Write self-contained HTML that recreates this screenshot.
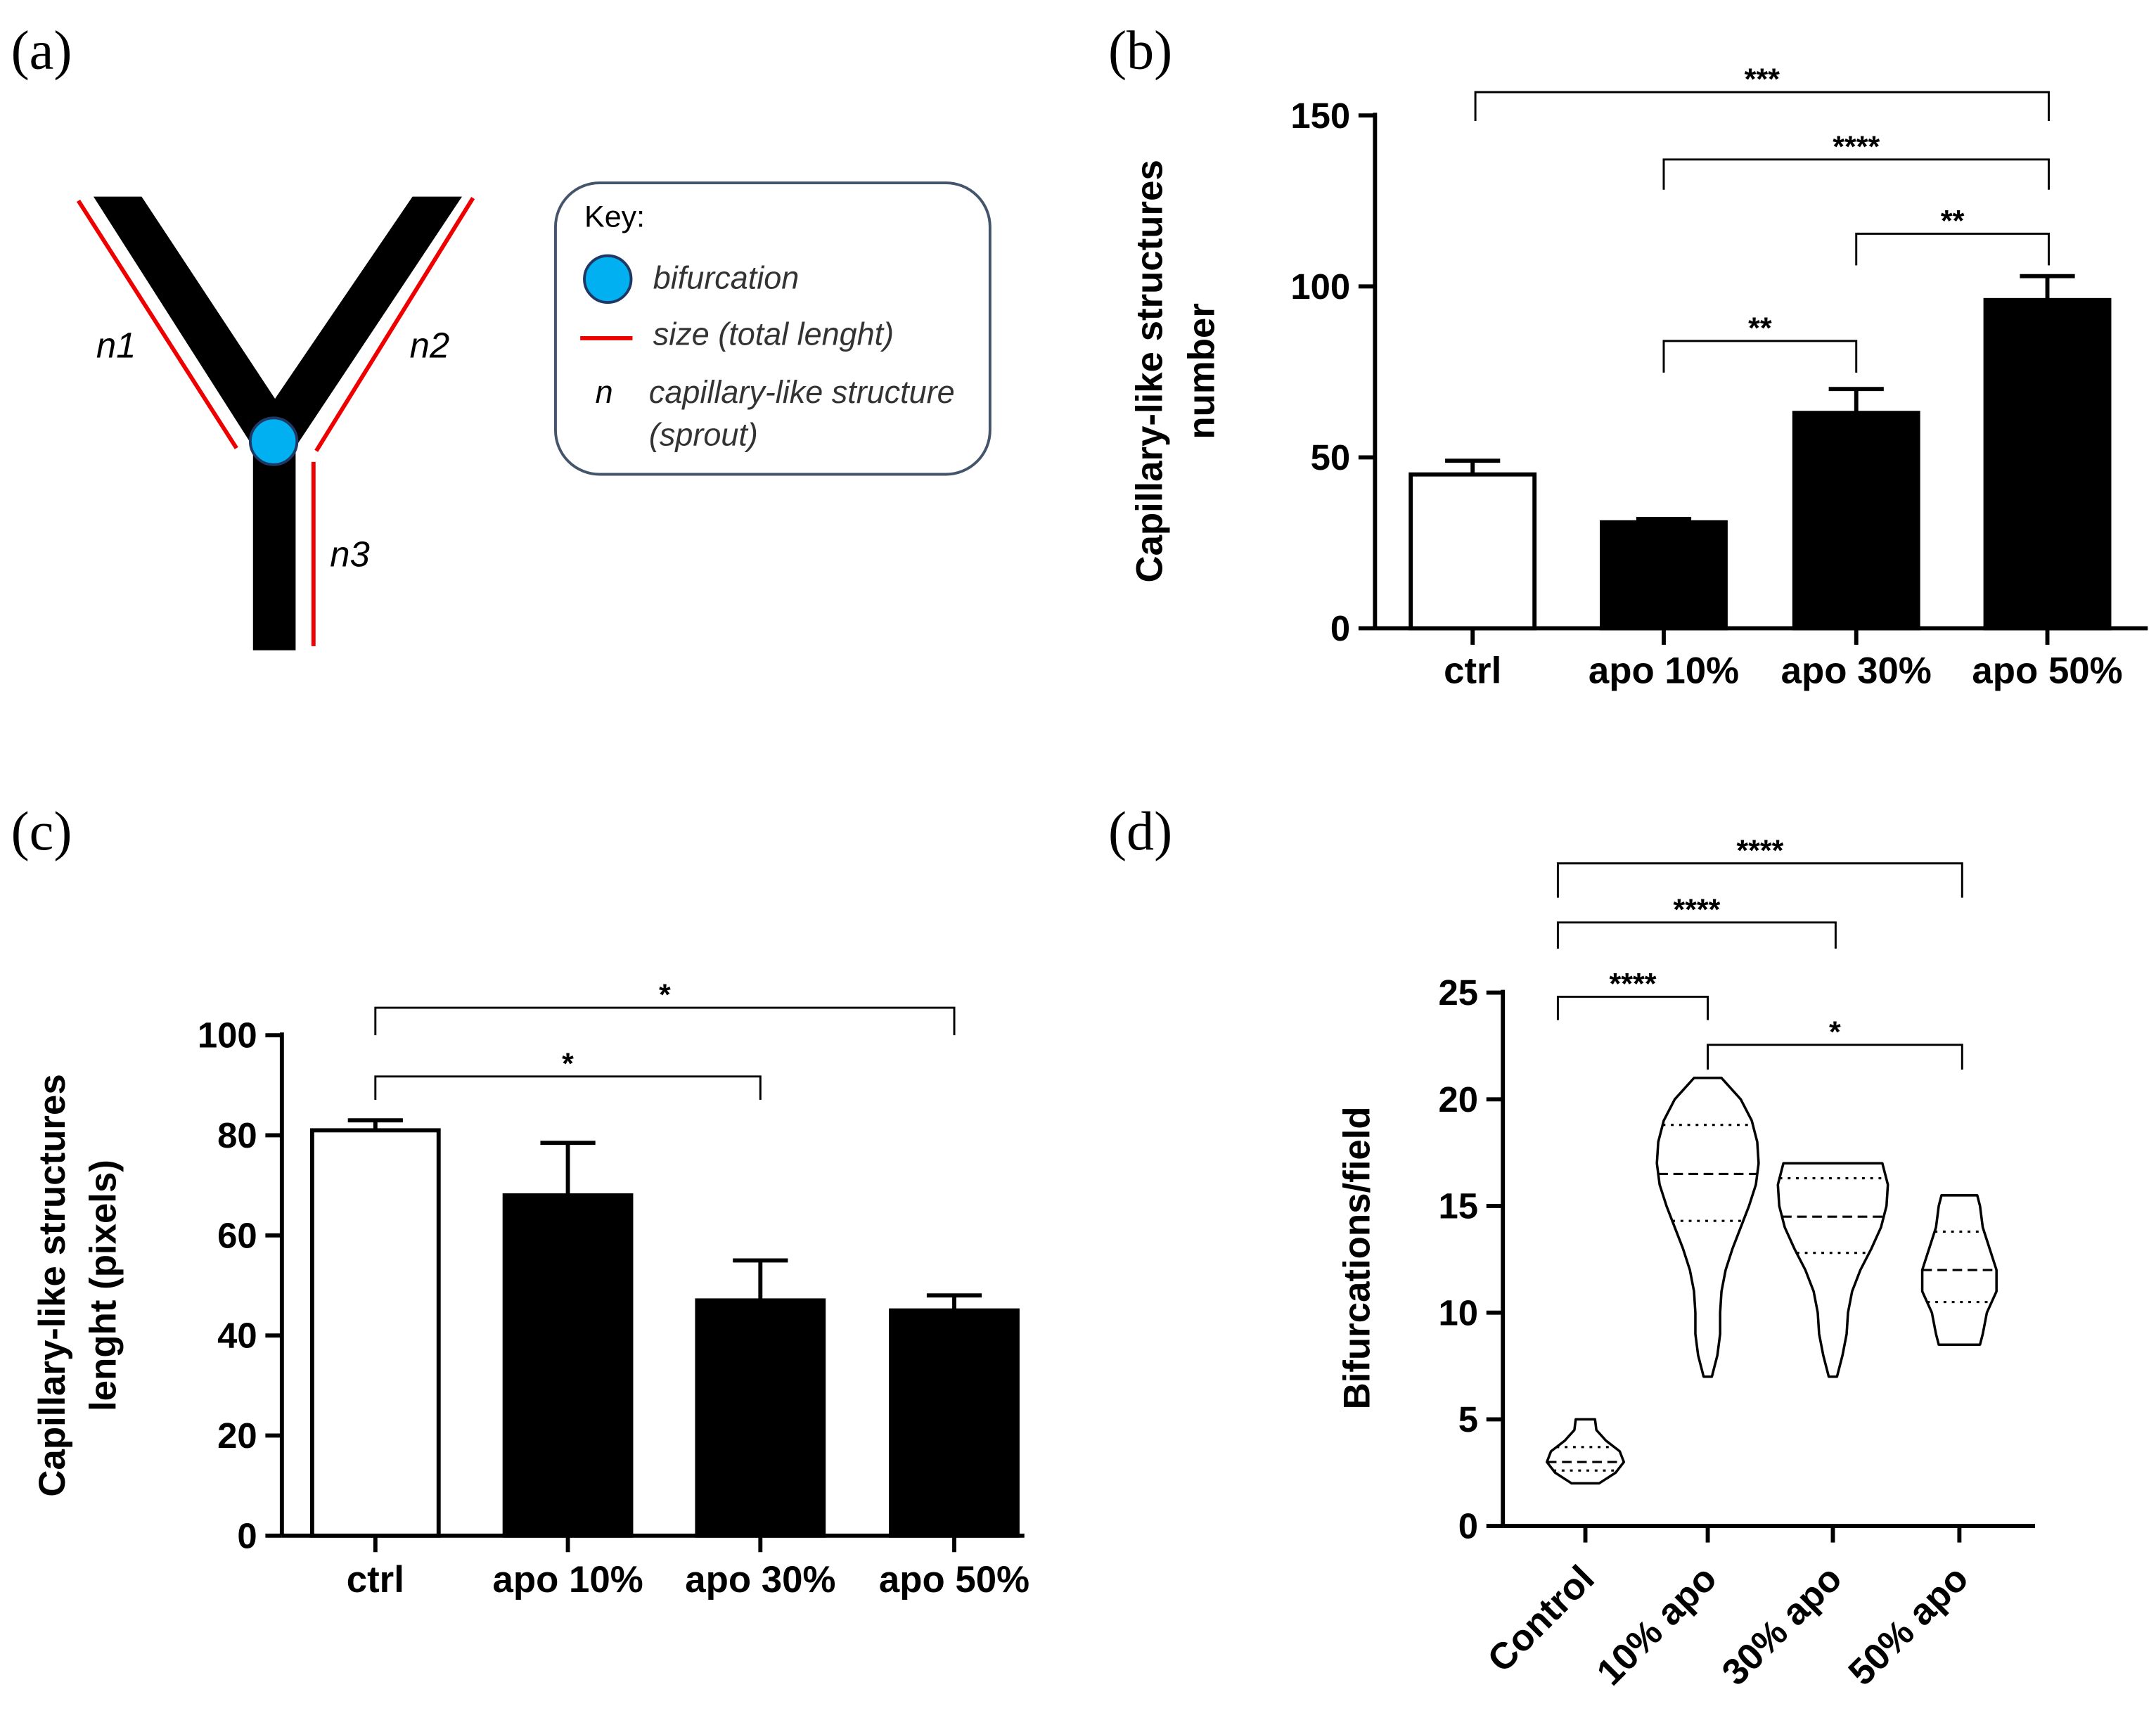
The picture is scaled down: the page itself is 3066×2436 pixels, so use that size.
<!DOCTYPE html>
<html><head><meta charset="utf-8"><style>
html,body{margin:0;padding:0;background:#fff}
svg{display:block}
text{font-family:"Liberation Sans",sans-serif}
.pl{font-family:"Liberation Serif",serif;font-size:40px}
</style></head><body>
<svg id="s" width="3066" height="2436" viewBox="0 0 1568 1246" preserveAspectRatio="none" xmlns="http://www.w3.org/2000/svg">
<text class="pl" x="8" y="50">(a)</text>
<text class="pl" x="806" y="50">(b)</text>
<text class="pl" x="8" y="618">(c)</text>
<text class="pl" x="806" y="618">(d)</text>
<g>
<polygon points="68,143 103,143 200,290 300,143 336,143 215,325 215,473 184,473 184,325" fill="#000"/>
<line x1="57" y1="146" x2="172" y2="326" stroke="#e00" stroke-width="3"/>
<line x1="344" y1="144" x2="230" y2="328" stroke="#e00" stroke-width="3"/>
<line x1="228" y1="336" x2="228" y2="470" stroke="#e00" stroke-width="3"/>
<circle cx="199" cy="321" r="17" fill="#00b0f0" stroke="#1f3864" stroke-width="2"/>
<text x="70" y="260" font-size="26" font-style="italic">n1</text>
<text x="298" y="260" font-size="26" font-style="italic">n2</text>
<text x="240" y="412" font-size="26" font-style="italic">n3</text>
</g>
<g>
<rect x="404" y="133" width="316" height="212" rx="32" fill="#fff" stroke="#44546a" stroke-width="2"/>
<text x="425" y="165" font-size="22">Key:</text>
<circle cx="442" cy="203" r="17" fill="#00b0f0" stroke="#1f3864" stroke-width="2"/>
<text x="475" y="210" font-size="23" font-style="italic" fill="#333">bifurcation</text>
<line x1="422" y1="246" x2="460" y2="246" stroke="#e00" stroke-width="3"/>
<text x="475" y="251" font-size="23" font-style="italic" fill="#333">size (total lenght)</text>
<text x="433" y="293" font-size="23" font-style="italic">n</text>
<text x="472" y="293" font-size="23" font-style="italic" fill="#333">capillary-like structure</text>
<text x="472" y="324" font-size="23" font-style="italic" fill="#333">(sprout)</text>
</g>
<g id="gb"></g>
<g id="gc"></g>
<g id="gd"></g>
</svg>
<script>
const bCats=["ctrl","apo 10%","apo 30%","apo 50%"];
const bVals=[45,31,63,96];
const bErr=[49,32,70,103];
const bTicks=[0,50,100,150];
const cCats=["ctrl","apo 10%","apo 30%","apo 50%"];
const cVals=[81,68,47,45];
const cErr=[83,78.5,55,48];
const cTicks=[0,20,40,60,80,100];
const dCats=["Control","10% apo","30% apo","50% apo"];
const dTicks=[0,5,10,15,20,25];
const dMed=[3,16.5,14.5,12];
const dQ1=[2.6,14.3,12.8,10.5];
const dQ3=[3.7,18.8,16.3,13.8];
const dLevels=[
 [2,2.5,3,3.5,4,4.5,5],
 [7,8,9,10,11,12,13,14,15,16,17,18,19,20,21],
 [7,8,9,10,11,12,13,14,15,16,17],
 [8.5,9,10,11,12,13,14,15,15.5]];
const dWidth=[
 [10,22,28,25,15,8,7],
 [3,7,9,9,10,13,18,24,30,35,37,36,32,24,10],
 [3,7,10,11,14,20,28,35,39,40,36],
 [15,17,20,27,27,22,17,15,13]];
const NS="http://www.w3.org/2000/svg";
function mk(p,t,a,txt){const e=document.createElementNS(NS,t);for(const k in a)e.setAttribute(k,a[k]);if(txt!=null)e.textContent=txt;p.appendChild(e);return e;}
function bracket(g,x1,x2,y,d1,d2,lab,fs){
 mk(g,"path",{d:`M${x1},${y+d1}V${y}H${x2}V${y+d2}`,fill:"none",stroke:"#000","stroke-width":1.5});
 const t=mk(g,"text",{x:(x1+x2)/2,y:y-2,"text-anchor":"middle","font-size":fs||22,"font-weight":"bold"},lab);
 
 
}
function barChart(g,cats,vals,errs,ticks,ax,y0,yTop,vmax,cx,bw,xEnd,labY){
 const Y=v=>y0-(v/vmax)*(y0-yTop);
 mk(g,"line",{x1:ax,y1:yTop-2,x2:ax,y2:y0,stroke:"#000","stroke-width":3});
 mk(g,"line",{x1:ax,y1:y0,x2:xEnd,y2:y0,stroke:"#000","stroke-width":3});
 ticks.forEach(t=>{mk(g,"line",{x1:ax-12,y1:Y(t),x2:ax,y2:Y(t),stroke:"#000","stroke-width":3});
  const l=mk(g,"text",{x:ax-18,y:Y(t)+9,"text-anchor":"end","font-size":26,"font-weight":"bold"},t);
  
  });
 cats.forEach((c,i)=>{const x=cx[i];
  mk(g,"line",{x1:x,y1:Y(vals[i]),x2:x,y2:Y(errs[i]),stroke:"#000","stroke-width":3});
  mk(g,"line",{x1:x-20,y1:Y(errs[i]),x2:x+20,y2:Y(errs[i]),stroke:"#000","stroke-width":3});
  const r=mk(g,"rect",{x:x-bw/2,y:Y(vals[i]),width:bw,height:y0-Y(vals[i]),fill:i==0?"#fff":"#000",stroke:"#000","stroke-width":3});
  
  
  mk(g,"line",{x1:x,y1:y0,x2:x,y2:y0+12,stroke:"#000","stroke-width":3});
  const l=mk(g,"text",{x:x,y:labY,"text-anchor":"middle","font-size":27,"font-weight":"bold"},c);
  
  });
 return Y;
}
const gb=document.getElementById("gb");
const bx=[1071,1210,1350,1489];
barChart(gb,bCats,bVals,bErr,bTicks,1000,457,84,150,bx,90,1562,497);
let t=mk(gb,"text",{transform:"translate(845,270) rotate(-90)","text-anchor":"middle","font-size":27,"font-weight":"bold"},"Capillary-like structures");

t=mk(gb,"text",{transform:"translate(883,270) rotate(-90)","text-anchor":"middle","font-size":27,"font-weight":"bold"},"number");

bracket(gb,1073,1490,67,21,21,"***");
bracket(gb,1210,1490,116,22,22,"****");
bracket(gb,1350,1490,170,23,23,"**");
bracket(gb,1210,1350,248,23,23,"**");
const gc=document.getElementById("gc");
const cxs=[273,413,553,694];
barChart(gc,cCats,cVals,cErr,cTicks,205,1117,753,100,cxs,92,745,1158);
t=mk(gc,"text",{transform:"translate(47,935) rotate(-90)","text-anchor":"middle","font-size":27,"font-weight":"bold"},"Capillary-like structures");

t=mk(gc,"text",{transform:"translate(84,935) rotate(-90)","text-anchor":"middle","font-size":27,"font-weight":"bold"},"lenght (pixels)");

bracket(gc,273,694,733,20,20,"*");
bracket(gc,273,553,783,17,17,"*");
const gd=document.getElementById("gd");
const dx=[1153,1242,1333,1425];
const ax=1093,y0=1110,yT=722;
const Y=v=>y0-(v/25)*(y0-yT);
mk(gd,"line",{x1:ax,y1:yT-2,x2:ax,y2:y0,stroke:"#000","stroke-width":3});
mk(gd,"line",{x1:ax,y1:y0,x2:1480,y2:y0,stroke:"#000","stroke-width":3});
dTicks.forEach(v=>{mk(gd,"line",{x1:ax-12,y1:Y(v),x2:ax,y2:Y(v),stroke:"#000","stroke-width":3});
 const l=mk(gd,"text",{x:ax-18,y:Y(v)+9,"text-anchor":"end","font-size":26,"font-weight":"bold"},v);
 });
dCats.forEach((c,i)=>{const x=dx[i];
 mk(gd,"line",{x1:x,y1:y0,x2:x,y2:y0+12,stroke:"#000","stroke-width":3});
 const l=mk(gd,"text",{transform:`translate(${x+8},${y0+40}) rotate(-45)`,"text-anchor":"end","font-size":27,"font-weight":"bold"},c);
 
 const lv=dLevels[i],w=dWidth[i];
 let d="M"+lv.map((v,j)=>`${x+w[j]},${Y(v)}`).join("L");
 for(let j=lv.length-1;j>=0;j--)d+=`L${x-w[j]},${Y(lv[j])}`;
 d+="Z";
 const p=mk(gd,"path",{d:d,fill:"#fff",stroke:"#000","stroke-width":1.8,"stroke-linejoin":"round"});
 
 
 function wAt(v){for(let j=0;j<lv.length-1;j++)if(v>=lv[j]&&v<=lv[j+1]){const f=(v-lv[j])/(lv[j+1]-lv[j]);return w[j]+f*(w[j+1]-w[j]);}return w[0];}
 [[dMed[i],"7,4"],[dQ1[i],"2,4"],[dQ3[i],"2,4"]].forEach(([v,da])=>{const ww=wAt(v);
  mk(gd,"line",{x1:x-ww,y1:Y(v),x2:x+ww,y2:Y(v),stroke:"#000","stroke-width":1.6,"stroke-dasharray":da});});
});
t=mk(gd,"text",{transform:"translate(996,915) rotate(-90)","text-anchor":"middle","font-size":27,"font-weight":"bold"},"Bifurcations/field");

bracket(gd,1133,1427,628,25,25,"****");
bracket(gd,1133,1335,671,19,19,"****");
bracket(gd,1133,1242,725,17,17,"****");
bracket(gd,1242,1427,760,18,18,"*");
</script>
</body></html>
